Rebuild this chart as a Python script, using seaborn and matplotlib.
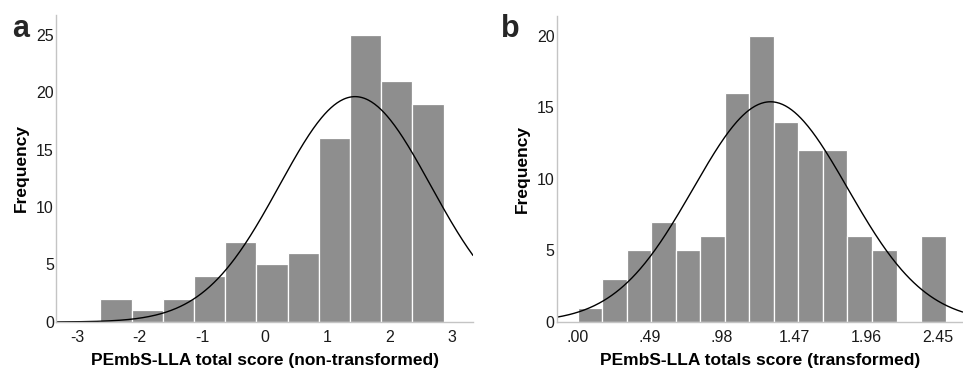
import numpy as np
import pandas as pd
import matplotlib
matplotlib.use("Agg")
import matplotlib.pyplot as plt
import seaborn as sns

sns.set_theme(style="white")
plt.rcParams['font.family'] = ['Liberation Sans', 'DejaVu Sans']

# panel a: non-transformed scores
a_start = -2.63
a_width = 0.5
a_counts = [2, 1, 2, 4, 7, 5, 6, 16, 25, 21, 19]
a_xticks = [-3, -2, -1, 0, 1, 2, 3]
a_xticklabels = ["-3", "-2", "-1", "0", "1", "2", "3"]
a_yticks = [0, 5, 10, 15, 20, 25]
a_curve_mean, a_curve_sd, a_curve_peak = 1.45, 1.21, 19.6

# panel b: transformed scores
b_start = 0.0
b_width = 1 / 6
b_counts = [1, 3, 5, 7, 5, 6, 16, 20, 14, 12, 12, 6, 5, 0, 6]
b_xticks = [0.0, 0.49, 0.98, 1.47, 1.96, 2.45]
b_xticklabels = [".00", ".49", ".98", "1.47", "1.96", "2.45"]
b_yticks = [0, 5, 10, 15, 20]
b_curve_mean, b_curve_sd, b_curve_peak = 1.31, 0.525, 15.4

BAR = "#8e8e8e"
SPINE = "#c4c4c4"

fig = plt.figure(figsize=(9.63, 3.69), dpi=100)
ax_a = fig.add_axes([0.0582, 0.1274, 0.4330, 0.8320])
ax_b = fig.add_axes([0.5781, 0.1274, 0.4215, 0.8293])


def draw(ax, start, width, counts, xlim, ylim, mean, sd, peak):
    n = len(counts)
    centers = start + width * (np.arange(n) + 0.5)
    df = pd.DataFrame({"x": centers, "n": counts})
    sns.histplot(data=df, x="x", weights="n", bins=n,
                 binrange=(start, start + width * n), ax=ax,
                 color=BAR, alpha=1, edgecolor="white", linewidth=0.9)
    xs = np.linspace(xlim[0], xlim[1], 400)
    curve = pd.DataFrame({"x": xs, "y": peak * np.exp(-0.5 * ((xs - mean) / sd) ** 2)})
    sns.lineplot(data=curve, x="x", y="y", ax=ax, color="black", linewidth=1.0)
    ax.set_xlim(*xlim)
    ax.set_ylim(*ylim)
    for s in ["top", "right"]:
        ax.spines[s].set_visible(False)
    for s in ["left", "bottom"]:
        ax.spines[s].set_color(SPINE)
        ax.spines[s].set_linewidth(1.0)
    ax.tick_params(axis="x", length=0, pad=6, labelsize=11.5, colors="#1a1a1a")
    ax.tick_params(axis="y", length=0, pad=1.5, labelsize=11.5, colors="#1a1a1a")
    ax.set_ylabel("Frequency", fontsize=12.5, fontweight="bold", color="black")


draw(ax_a, a_start, a_width, a_counts, (-3.34, 3.34), (0, 26.7),
     a_curve_mean, a_curve_sd, a_curve_peak)
ax_a.set_xticks(a_xticks, a_xticklabels)
ax_a.set_yticks(a_yticks)
ax_a.set_xlabel("PEmbS-LLA total score (non-transformed)", fontsize=12.5,
                fontweight="bold", color="black")
ax_a.yaxis.set_label_coords(-0.065, 0.5)
ax_a.xaxis.set_label_coords(0.5, -0.1)

draw(ax_b, b_start, b_width, b_counts, (-0.143, 2.616), (0, 21.4),
     b_curve_mean, b_curve_sd, b_curve_peak)
ax_b.set_xticks(b_xticks, b_xticklabels)
ax_b.set_yticks(b_yticks)
ax_b.set_xlabel("PEmbS-LLA totals score (transformed)", fontsize=12.5,
                fontweight="bold", color="black")
ax_b.yaxis.set_label_coords(-0.065, 0.5)
ax_b.xaxis.set_label_coords(0.5, -0.1)

fig.text(21 / 963, 1 - 37 / 369, "a", fontsize=22, fontweight="bold",
         ha="center", va="baseline")
fig.text(510 / 963, 1 - 37 / 369, "b", fontsize=22, fontweight="bold",
         ha="center", va="baseline")

fig.savefig("out.png", dpi=100)
